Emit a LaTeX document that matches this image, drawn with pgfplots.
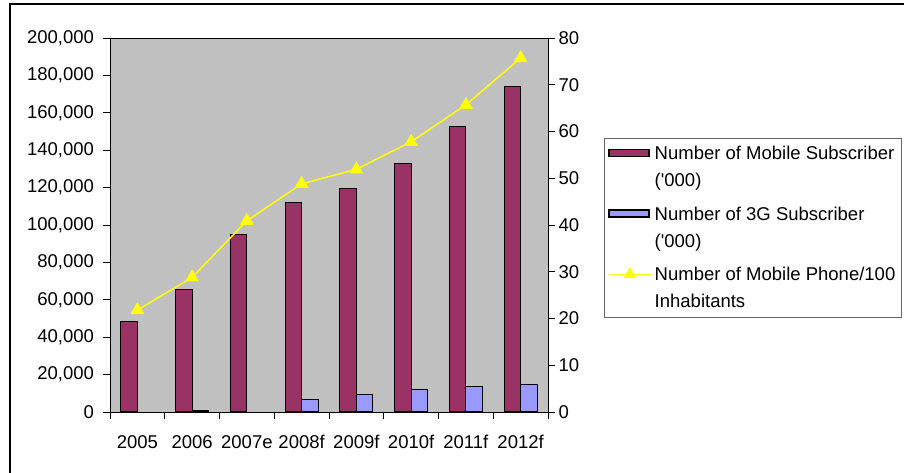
\documentclass[border=0pt]{standalone}
\usepackage{pgfplots}
\pgfplotsset{compat=1.18}
\usepackage{fontspec}
\setmainfont{Liberation Sans}
\definecolor{mob}{HTML}{993366}
\definecolor{tg}{HTML}{9999FF}
\definecolor{bg}{HTML}{C0C0C0}
\definecolor{yl}{HTML}{FFFF00}
\begin{document}
\begin{tikzpicture}
\path[use as bounding box] (-110pt,-61pt) rectangle (794pt,412pt);
\draw[black, line width=2pt] (-100pt,-61pt) -- (-100pt,408pt) -- (794pt,408pt);
\begin{axis}[
  at={(0pt,0pt)}, anchor=south west,
  scale only axis, width=438pt, height=374pt,
  xmin=-0.5, xmax=7.5, ymin=0, ymax=200000,
  axis background/.style={fill=bg},
  axis line style={black, line width=0.9pt},
  xtick={0,...,7},
  xticklabels={2005,2006,2007e,2008f,2009f,2010f,2011f,2012f},
  major x tick style={draw=none},
  minor xtick={-0.5,0.5,...,7.5},
  minor tick length=7pt,
  xtick pos=bottom, ytick pos=left,
  tick align=outside,
  major tick length=7pt,
  tick style={black, line width=0.9pt},
  ytick={0,20000,...,200000},
  scaled y ticks=false,
  yticklabel style={/pgf/number format/fixed, /pgf/number format/1000 sep={,}, /pgf/number format/assume math mode=true, xshift=-5.5pt},
  tick label style={font=\fontsize{18.5}{22}\selectfont},
  xticklabel style={yshift=-13pt},
]
\addplot[ybar, bar width=16.5pt, bar shift=-8.25pt, fill=mob, draw=black, line width=1.1pt]
  coordinates {(0,48200) (1,65600) (2,95000) (3,112000) (4,119700) (5,132800) (6,152800) (7,174200)};
\addplot[ybar, bar width=16.5pt, bar shift=8.25pt, fill=tg, draw=black, line width=1.1pt]
  coordinates {(1,1000) (3,6800) (4,9500) (5,12000) (6,13400) (7,14600)};
\end{axis}
\begin{axis}[
  at={(0pt,0pt)}, anchor=south west,
  scale only axis, width=438pt, height=374pt,
  xmin=-0.5, xmax=7.5, ymin=0, ymax=80,
  axis y line*=right, axis x line=none,
  axis line style={black, line width=0.9pt},
  ytick={0,10,...,80},
  tick align=outside, major tick length=7pt,
  tick style={black, line width=0.9pt},
  yticklabel style={/pgf/number format/fixed, /pgf/number format/assume math mode=true},
  tick label style={font=\fontsize{18.5}{22}\selectfont},
  legend style={at={(1.1279,0.7326)}, anchor=north west, draw=black!60, fill=white,
    font=\fontsize{18.5}{27}\selectfont, nodes={align=left, anchor=base west},
    row sep=14.5pt, inner xsep=4pt, inner ysep=6pt},
  legend cell align=left,
]
\addlegendimage{legend image code/.code={\draw[fill=mob, draw=black, line width=1.1pt] (0pt,30pt) rectangle (40pt,37pt); \path (43pt,33pt);}}
\addlegendentry{Number of Mobile Subscriber\\(\textquotesingle 000)}
\addlegendimage{legend image code/.code={\draw[fill=tg, draw=black, line width=1.1pt] (0pt,30pt) rectangle (40pt,37pt); \path (43pt,33pt);}}
\addlegendentry{Number of 3G Subscriber\\(\textquotesingle 000)}
\addplot[yl, line width=1.5pt, mark=triangle*, mark size=6.5pt, mark options={fill=yl, draw=yl},
  legend image code/.code={\draw[yl, line width=1.5pt] (0pt,33pt) -- (43pt,33pt); \fill[yl] (21pt,33pt) +(90:6pt) -- +(210:6pt) -- +(330:6pt) -- cycle;}]
  coordinates {(0,21.8) (1,28.8) (2,40.9) (3,48.8) (4,51.9) (5,57.8) (6,65.7) (7,75.7)};
\addlegendentry{Number of Mobile Phone/100\\Inhabitants}
\end{axis}
\end{tikzpicture}
\end{document}
